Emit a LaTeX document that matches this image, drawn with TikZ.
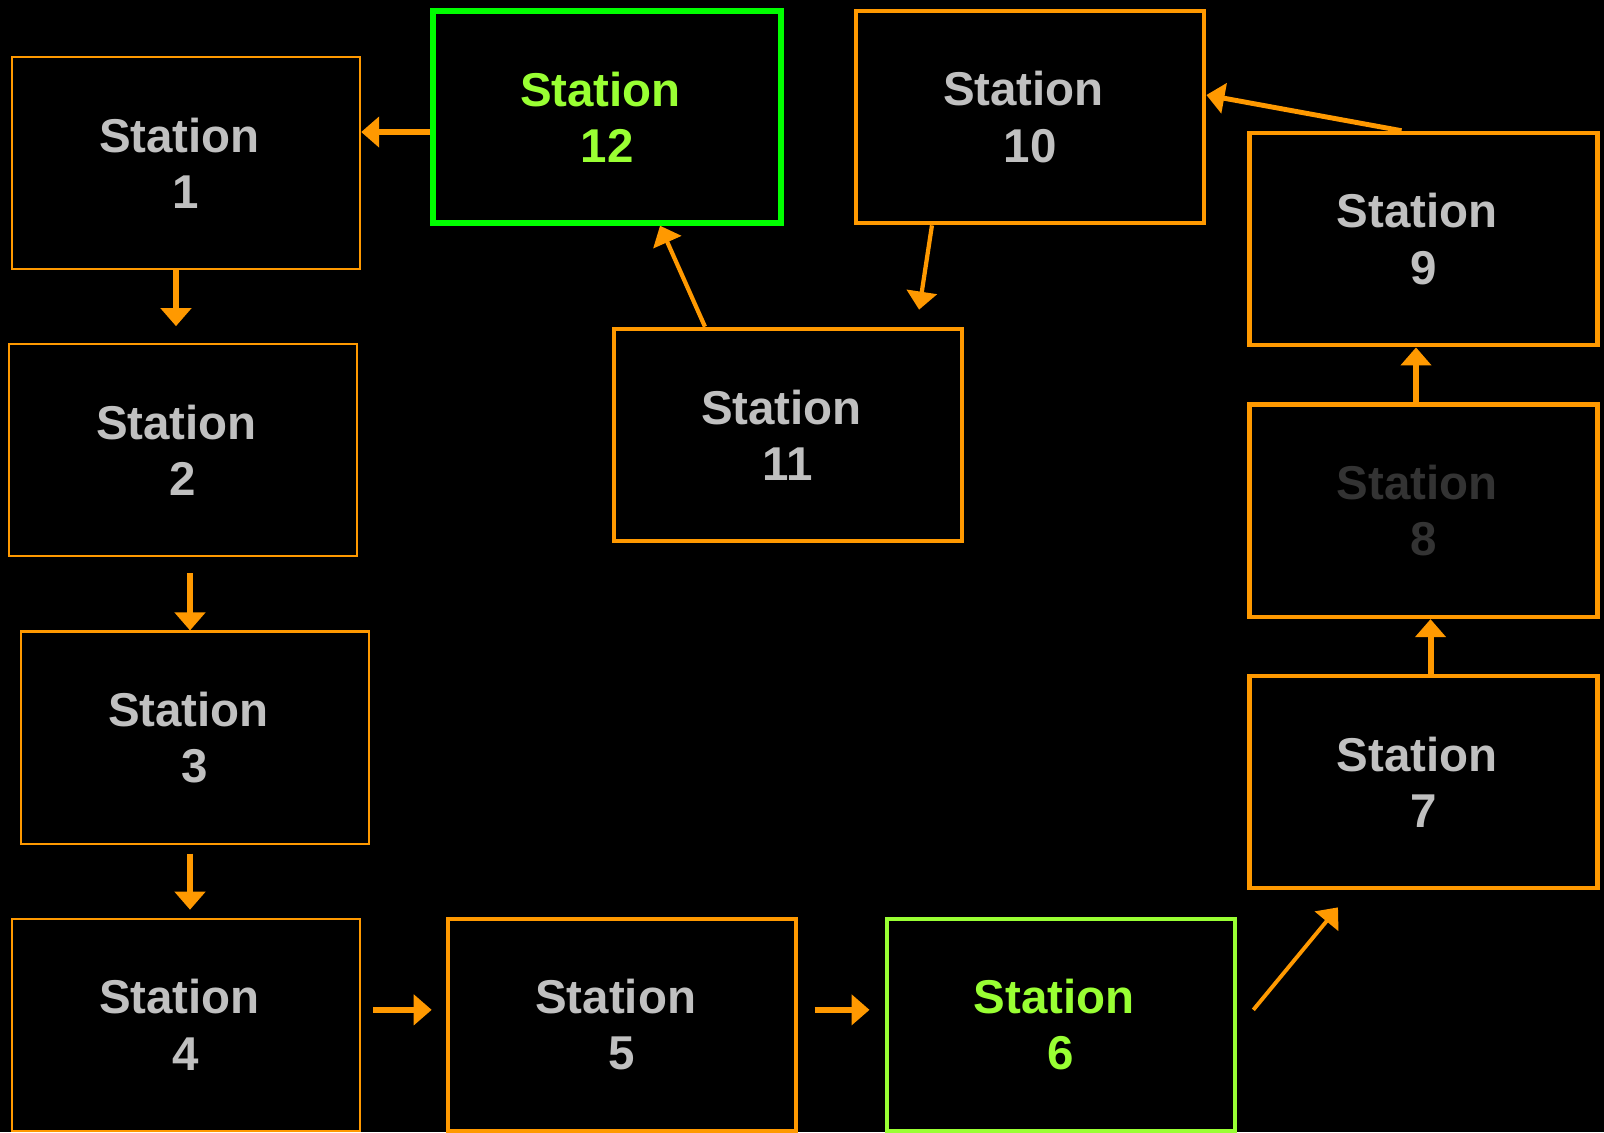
\documentclass[tikz,border=0pt]{standalone}
\usepackage{fontspec}
\setmainfont{Liberation Sans}
\usepackage{xcolor}
\usepackage{tikz}
\usetikzlibrary{arrows.meta,positioning}

\definecolor{lineorange}{HTML}{FF9900}
\definecolor{labelgrey}{HTML}{C0C0C0}
\definecolor{labeldim}{HTML}{333333}
\definecolor{labellime}{HTML}{99FF33}
\definecolor{boxgreen}{HTML}{00FF00}

\begin{document}
\begin{tikzpicture}
  [
    x=0.01cm,y=-0.01cm,
    node distance=0.73cm,
    station/.style={rectangle,draw=lineorange,fill=black,line width=1.3pt,inner sep=0pt,
      minimum width=3.48cm,minimum height=2.12cm,align=center,text=labelgrey,
      font=\fontsize{13.5}{16}\selectfont\bfseries},
    thin station/.style={station,line width=0.6pt},
    active/.style={draw=labellime,text=labellime},
    flow/.style={draw=lineorange,line width=1.7pt,-{Triangle[width=0.3cm,length=0.18cm]}}
  ]
  \useasboundingbox (0,0) rectangle (1604,1132);
  \fill[black] (0,0) rectangle (1604,1132);

  % left column and bottom row
  \node[thin station] (s1) at (186,163) {Station\hspace*{0.13cm}\\1};
  \node[thin station] (s2) [below = of s1, xshift=-0.03cm] {Station\hspace*{0.13cm}\\2};
  \node[thin station] (s3) [below = of s2, xshift=0.12cm] {Station\hspace*{0.13cm}\\3};
  \node[thin station] (s4) [below = of s3, xshift=-0.09cm] {Station\hspace*{0.13cm}\\4};
  \node[station] (s5) [right = 0.845cm of s4] {Station\hspace*{0.13cm}\\5};
  \node[station,active] (s6) [right = 0.86cm of s5] {Station\hspace*{0.13cm}\\6};

  % right column
  \node[station] (s7) at (1423.5,782) {Station\hspace*{0.13cm}\\7};
  \node[station,text=labeldim] (s8) [above = 0.545cm of s7] {Station\hspace*{0.13cm}\\8};
  \node[station] (s9) [above = 0.55cm of s8] {Station\hspace*{0.13cm}\\9};

  % top
  \node[station] (s10) at (1030,117) {Station\hspace*{0.13cm}\\10};
  \node[station] (s11) at (788,435) {Station\hspace*{0.13cm}\\11};
  \node[station,draw=boxgreen,text=labellime,line width=1.5pt] (s12) at (607,117)
    {Station\hspace*{0.13cm}\\12};

  \draw[flow] ([yshift=-0.15cm]s12.west) -- ([yshift=-0.15cm]s12.west -| s1.east);
  \draw[flow, shorten >=0.17cm] ([xshift=-0.1cm]s1.south) -- ([xshift=-0.1cm]s1.south |- s2.north);
  \draw[flow, shorten <=0.16cm] ([xshift=0.07cm]s2.south) -- ([xshift=0.07cm]s2.south |- s3.north);
  \draw[flow, shorten <=0.09cm, shorten >=0.08cm] ([xshift=-0.05cm]s3.south)
    -- ([xshift=-0.05cm]s3.south |- s4.north);
  \draw[flow, shorten <=0.12cm, shorten >=0.14cm] ([yshift=0.15cm]s4.east) -- ([yshift=0.15cm]s4.east -| s5.west);
  \draw[flow, shorten <=0.16cm, shorten >=0.15cm] ([yshift=0.15cm]s5.east) -- ([yshift=0.15cm]s5.east -| s6.west);
  \draw[flow, line width=1.1pt] ([xshift=0.16cm,yshift=0.15cm]s6.east)
    -- ([xshift=-0.855cm,yshift=-0.17cm]s7.south);
  \draw[flow] ([xshift=0.07cm]s7.north) -- ([xshift=0.07cm]s7.north |- s8.south);
  \draw[flow] ([xshift=-0.075cm]s8.north) -- ([xshift=-0.075cm]s8.north |- s9.south);
  \draw[flow, line width=1.4pt] ([xshift=-0.22cm]s9.north) -- ([yshift=0.22cm]s10.east);
  \draw[flow, line width=1.2pt] ([xshift=-0.98cm]s10.south) -- ([xshift=1.31cm,yshift=0.17cm]s11.north);
  \draw[flow, line width=1.2pt] ([xshift=-0.83cm]s11.north) -- ([xshift=0.53cm]s12.south);
\end{tikzpicture}
\end{document}
